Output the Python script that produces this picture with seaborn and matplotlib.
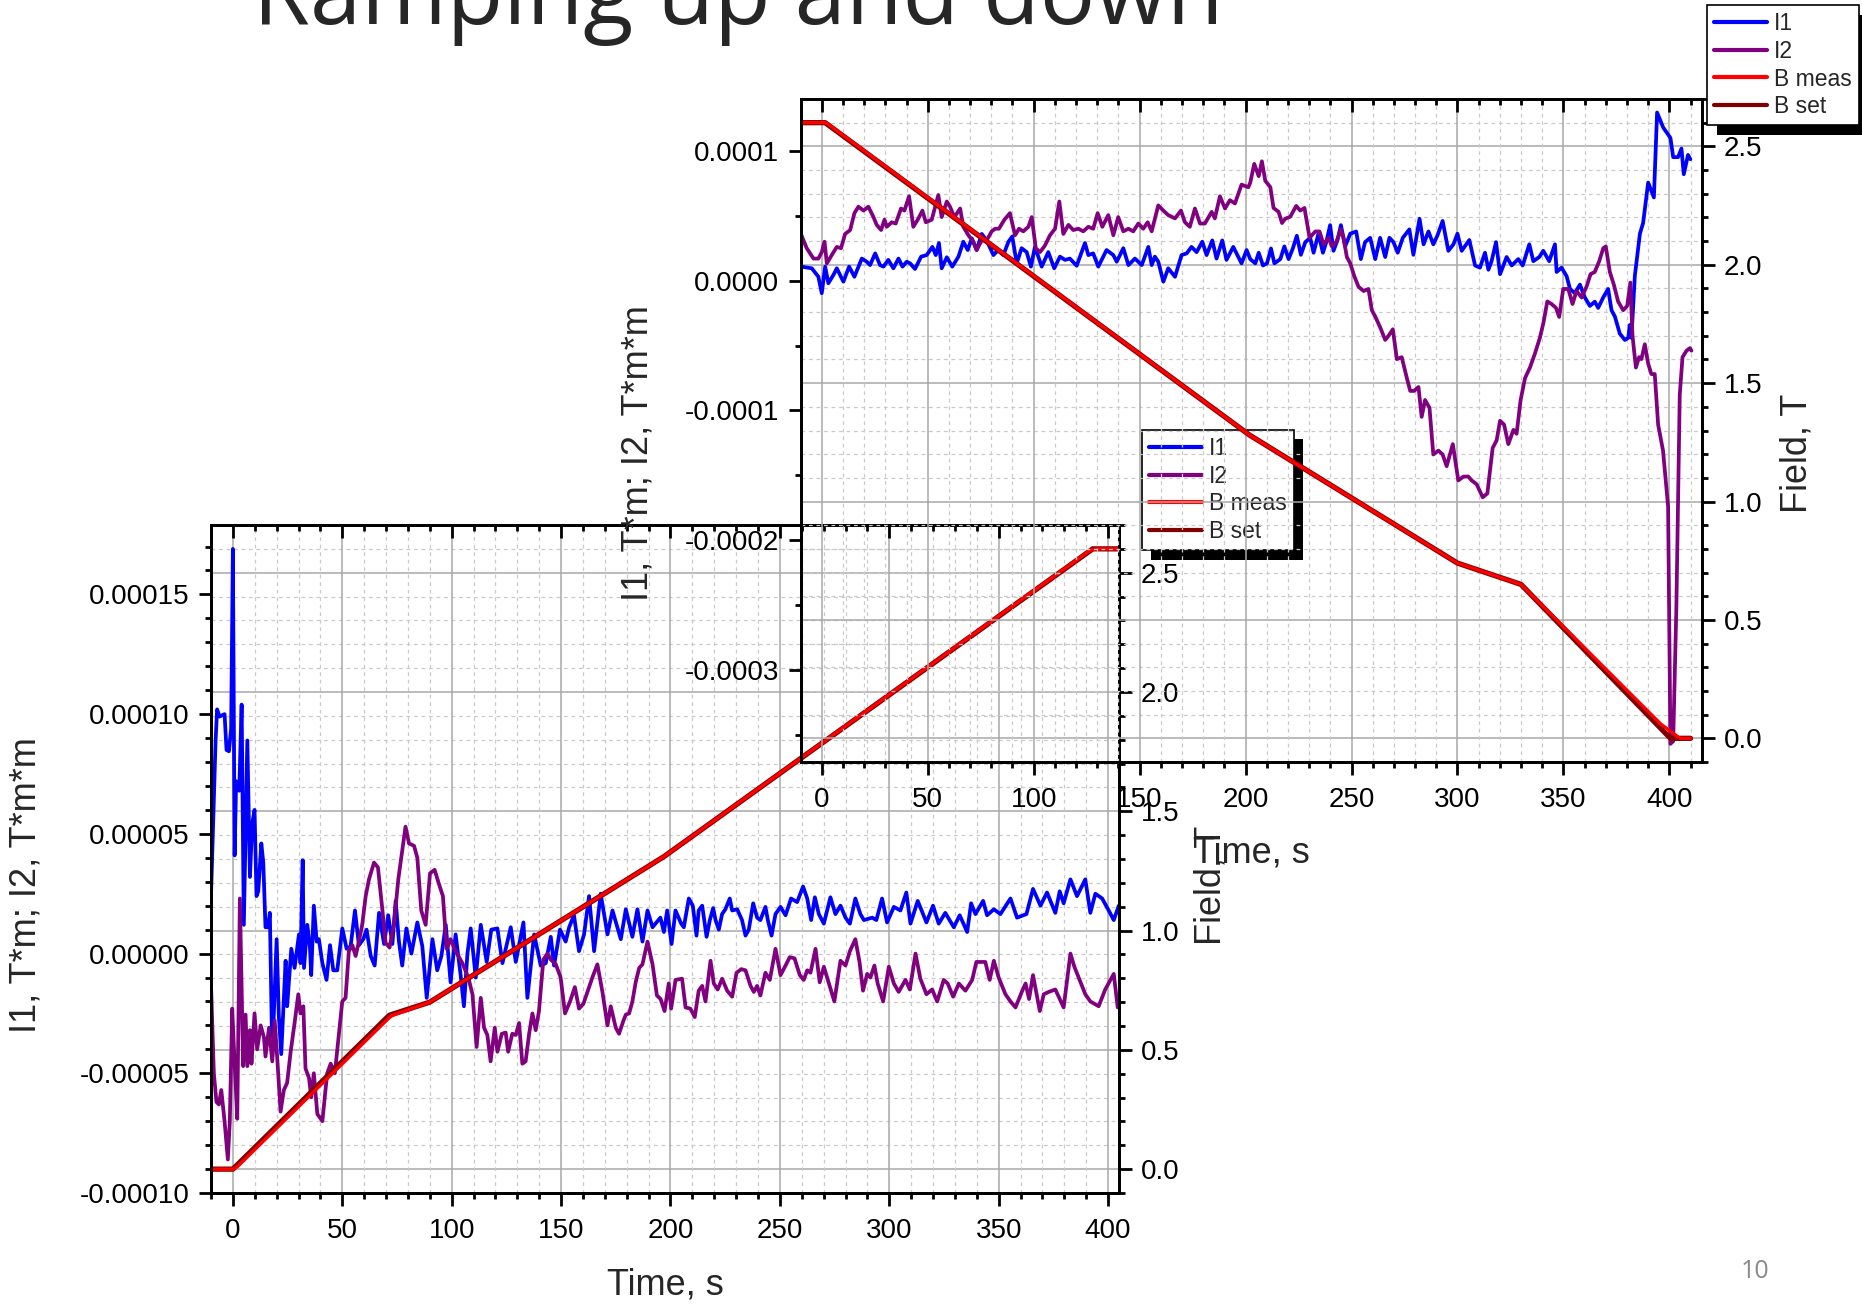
import numpy as np
import matplotlib
matplotlib.use("Agg")
import matplotlib.pyplot as plt
from matplotlib.ticker import MultipleLocator, FuncFormatter
from matplotlib.lines import Line2D
from matplotlib.patches import Rectangle
import seaborn as sns

# ---------------- data (I1 / I2 values in units of 1e-5) ----------------
TITLE = "Ramping up and down"
PAGE = "10"
LEGEND_LABELS = ["I1", "I2", "B meas", "B set"]
X_LABEL = "Time, s"
Y_LABEL = "I1, T*m; I2, T*m*m"
R_LABEL = "Field, T"
I_SCALE = 1e-5

# ----- lower chart (ramp up) -----
BOT_I1_T = [-10, -7.9, -7.2, -6.1, -3.8, -2.9, -1.8, -0.8, 0.0, 0.8,
            1.5, 2.9, 4.0, 5.0, 6.6, 7.8, 8.8, 9.9, 10.8, 11.6,
            13.0, 13.9, 14.9, 16.0, 16.9, 18.0, 20.0, 21.0, 22.1, 24.1,
            24.8, 26.7, 28.2, 30.2, 30.9, 31.9, 32.5, 34.0, 35.2, 35.8,
            37.0, 38.3, 39.3, 40.9, 42.8, 44.4, 45.9, 47.7, 50.0, 52.0,
            53.8, 55.8, 57.6, 59.6, 61.1, 63.0, 64.8, 66.8, 69.1, 71.0,
            72.9, 74.4, 75.9, 77.4, 79.3, 81.6, 84.3, 86.6, 88.6, 91.2,
            93.4, 95.3, 97.3, 99.5, 101.8, 104.1, 105.6, 107.2, 108.7, 111.0,
            113.3, 116.0, 118.1, 120.9, 123.2, 127.0, 129.3, 132.8, 134.6, 137.7,
            140.7, 143.0, 145.3, 146.8, 149.5, 152.1, 153.7, 155.9, 158.2, 160.5,
            162.8, 165.1, 168.1, 171.2, 173.5, 177.3, 179.6, 182.6, 184.9, 187.2,
            189.5, 191.8, 195.4, 197.0, 198.5, 200.5, 202.3, 204.9, 206.1, 208.4,
            210.2, 211.9, 212.9, 214.5, 216.5, 218.0, 219.5, 220.6, 222.1, 223.6,
            225.1, 227.1, 228.2, 230.5, 232.7, 234.3, 235.8, 237.8, 239.6, 241.1,
            243.4, 244.5, 246.2, 248.0, 250.3, 252.6, 255.1, 257.9, 260.6, 262.5,
            264.3, 266.0, 267.8, 270.1, 273.1, 275.4, 277.7, 280.0, 282.0, 284.5,
            286.8, 288.4, 292.2, 294.1, 296.7, 299.0, 302.1, 305.1, 307.8, 309.7,
            313.0, 317.0, 320.0, 322.6, 325.6, 329.5, 332.2, 335.6, 337.4, 339.4,
            342.9, 344.7, 347.8, 350.8, 355.4, 358.4, 362.7, 365.7, 369.1, 372.1,
            375.9, 377.9, 379.7, 382.8, 385.8, 389.6, 391.9, 394.2, 397.3, 400.3,
            402.6, 404.9]
BOT_I1_V = [2.4, 8.9, 10.2, 9.9, 10.0, 8.5, 8.45, 9.4, 16.9, 4.1,
            7.2, 6.8, 10.4, 1.2, 8.9, 3.2, 5.4, 6.0, 2.4, 2.6,
            4.6, 3.8, 1.1, 1.1, 1.7, -4.3, 0.6, -2.6, -4.2, -0.3,
            -2.2, 0.2, -0.6, 0.8, -0.4, 3.9, -0.6, 1.2, 0.3, -0.9,
            2.0, 0.5, 0.6, -0.4, -1.1, 0.35, -0.7, -0.7, 1.05, 0.2,
            0.3, 1.8, 0.35, 0.6, 1.0, -0.1, -0.5, 1.7, 0.4, 1.6,
            0.4, 2.2, 0.5, -0.5, 1.05, 0.0, 1.3, 0.3, -1.85, 0.6,
            -0.7, -0.1, 1.2, -1.2, 0.8, -0.9, -2.2, 0.0, 1.05, -1.0,
            1.2, -0.35, 1.0, 1.05, -0.4, 1.1, -0.35, 1.3, -1.85, 0.8,
            -0.5, -0.4, 0.7, -0.5, 1.0, 0.5, 1.1, 1.6, 0.1, 0.8,
            2.4, 0.1, 2.5, 0.8, 1.8, 0.6, 1.85, 0.7, 1.85, 0.5,
            1.8, 1.1, 1.5, 0.9, 1.8, 0.4, 1.8, 1.25, 1.1, 2.3,
            2.0, 0.75, 1.8, 2.0, 0.7, 1.4, 1.9, 1.4, 1.0, 1.65,
            1.85, 2.3, 1.8, 1.85, 1.4, 0.75, 1.0, 2.1, 1.5, 1.4,
            1.95, 1.4, 0.75, 1.65, 1.95, 1.6, 2.3, 2.15, 2.8, 2.3,
            1.4, 2.35, 1.65, 1.25, 2.35, 1.65, 2.0, 1.5, 1.25, 2.3,
            1.65, 1.4, 1.5, 1.4, 2.3, 1.3, 1.95, 1.8, 2.55, 1.25,
            2.2, 1.3, 2.0, 1.25, 1.7, 1.1, 1.6, 0.9, 2.1, 1.65,
            2.2, 1.6, 1.85, 1.65, 2.3, 1.5, 1.65, 2.7, 2.0, 2.55,
            1.7, 2.6, 2.1, 3.1, 2.4, 3.1, 1.7, 2.5, 2.3, 1.8,
            1.4, 2.0]

BOT_I2_T = [-10, -8.7, -7.5, -6.4, -5.3, -3.8, -2.3, -1.4, -0.3, 0.8,
            2.0, 3.2, 4.7, 5.8, 6.6, 7.8, 8.5, 9.9, 11.1, 12.7,
            14.2, 14.9, 16.5, 18.0, 19.1, 20.3, 21.8, 23.3, 24.8, 26.4,
            28.2, 29.9, 30.9, 32.2, 33.2, 34.8, 35.8, 37.0, 38.6, 40.9,
            43.1, 44.7, 46.6, 48.5, 50.0, 51.5, 53.0, 54.6, 56.1, 57.6,
            59.1, 60.7, 62.2, 64.5, 66.3, 68.3, 69.8, 71.6, 73.6, 75.6,
            77.4, 78.9, 80.5, 82.8, 84.3, 86.1, 88.1, 90.1, 92.2, 94.2,
            96.0, 97.7, 99.5, 101.8, 104.9, 107.6, 109.5, 111.4, 113.3, 114.8,
            116.3, 117.8, 119.7, 120.9, 122.9, 124.7, 125.8, 127.7, 129.3, 130.8,
            132.3, 133.8, 135.4, 136.9, 138.4, 139.9, 141.9, 143.8, 145.3, 147.6,
            149.8, 151.8, 154.1, 156.3, 158.2, 160.2, 162.8, 164.3, 166.6, 168.9,
            171.2, 172.7, 175.0, 176.5, 178.5, 179.6, 181.1, 182.6, 184.1, 185.7,
            187.2, 189.5, 191.8, 193.8, 195.5, 197.3, 199.2, 200.3, 202.3, 205.3,
            206.9, 209.1, 211.1, 212.9, 214.5, 216.0, 218.3, 219.8, 221.6, 223.6,
            225.9, 228.2, 230.2, 232.4, 234.3, 236.6, 238.1, 239.6, 241.1, 243.4,
            245.4, 248.0, 250.3, 252.6, 254.5, 256.7, 259.1, 260.9, 262.5, 264.0,
            266.3, 268.2, 270.1, 272.4, 274.9, 277.7, 280.0, 282.0, 284.5, 286.4,
            288.0, 289.9, 291.4, 293.2, 294.7, 297.2, 299.8, 302.1, 304.3, 307.4,
            309.4, 312.0, 314.2, 317.0, 319.6, 321.9, 324.9, 326.7, 329.2, 331.8,
            334.8, 337.9, 339.8, 342.4, 343.9, 345.9, 347.8, 350.0, 353.1, 355.4,
            357.7, 360.8, 362.3, 363.9, 365.7, 368.8, 370.6, 372.9, 375.9, 379.7,
            382.8, 384.6, 387.0, 389.6, 391.9, 395.7, 398.7, 402.6, 404.4]
BOT_I2_V = [-1.3, -5.0, -6.2, -6.3, -5.7, -7.0, -8.6, -7.0, -2.3, -4.6,
            -6.9, 2.3, -4.7, -2.55, -4.7, -3.2, -4.6, -2.5, -4.0, -3.0,
            -3.5, -4.3, -3.1, -4.5, -2.8, -4.4, -6.6, -5.7, -5.4, -4.1,
            -2.9, -1.7, -2.5, -2.2, -4.8, -5.2, -6.0, -5.0, -6.7, -7.0,
            -5.0, -4.6, -5.0, -3.3, -2.0, -1.85, 0.1, 0.35, -0.1, 0.5,
            1.2, 2.4, 3.1, 3.8, 3.6, 1.85, 0.45, 0.25, 1.2, 3.1,
            4.3, 5.3, 4.6, 4.5, 4.0, 1.8, 1.2, 3.35, 3.5, 2.9,
            2.4, 0.2, 0.6, 0.1, -0.4, -1.0, -1.7, -3.9, -1.85, -3.1,
            -3.4, -4.5, -3.1, -4.1, -3.35, -3.3, -4.1, -3.35, -3.4, -2.9,
            -4.6, -4.5, -3.35, -2.5, -3.2, -2.4, -0.25, 0.0, -0.25, -0.45,
            -1.0, -2.5, -2.0, -1.4, -2.3, -2.1, -1.4, -1.0, -0.45, -1.6,
            -3.0, -2.2, -3.1, -3.35, -2.8, -2.55, -2.5, -2.0, -1.2, -0.6,
            -0.45, 0.5, -0.45, -1.75, -1.9, -2.4, -1.25, -2.3, -1.1, -1.05,
            -2.25, -2.3, -2.65, -1.55, -1.35, -2.0, -0.3, -1.25, -1.5, -1.05,
            -1.55, -1.8, -0.8, -0.65, -0.7, -1.35, -1.6, -1.35, -1.75, -0.8,
            -1.1, 0.2, -0.9, -0.5, -0.15, -0.2, -0.9, -1.1, -0.7, -0.8,
            0.2, -1.2, -0.55, -1.25, -2.0, -0.3, -0.5, 0.1, 0.6, -0.35,
            -1.55, -0.85, -1.0, -0.5, -1.25, -2.0, -0.55, -1.25, -1.6, -1.1,
            -1.5, 0.0, -1.05, -1.7, -1.5, -2.0, -1.1, -1.25, -1.8, -1.25,
            -1.55, -1.1, -0.35, -0.35, -0.35, -1.1, -0.3, -1.0, -1.7, -2.0,
            -2.25, -1.55, -1.25, -1.9, -0.9, -2.4, -1.7, -1.6, -1.5, -2.25,
            0.0, -0.55, -1.1, -1.7, -2.0, -2.2, -1.5, -0.85, -2.25]

BOT_BSET_T = [-10, 0, 71.5, 90, 197, 393, 405]
BOT_BSET_V = [0.0, 0.0, 0.645, 0.70, 1.31, 2.60, 2.60]
BOT_BMEAS_T = [-10, 0, 2, 71.5, 73, 90, 197, 392, 395, 405]
BOT_BMEAS_V = [0.0, 0.0, 0.01, 0.635, 0.645, 0.70, 1.31, 2.595, 2.60, 2.60]

# ----- upper chart (ramp down) -----
TOP_I1_T = [-9.6, -4.7, -1.6, 0.0, 1.6, 3.1, 5.5, 7.1, 10.2, 12.9,
            15.4, 18.9, 21.2, 22.8, 25.2, 27.5, 29.1, 31.4, 33.8, 36.2,
            38.1, 40.1, 41.7, 44.0, 46.9, 49.5, 52.2, 53.8, 55.3, 56.6,
            59.0, 61.6, 64.5, 66.8, 68.9, 70.8, 73.1, 75.5, 77.8, 81.0,
            83.3, 85.7, 88.1, 89.9, 92.0, 94.3, 96.7, 98.7, 100.6, 103.8,
            106.9, 109.7, 112.4, 114.8, 117.1, 120.3, 124.2, 125.8, 128.1, 130.5,
            134.4, 137.6, 139.2, 142.3, 144.7, 147.8, 151.0, 154.1, 155.7, 157.2,
            158.8, 161.2, 163.5, 166.7, 169.8, 172.2, 174.5, 176.9, 179.6, 181.6,
            184.3, 186.3, 189.0, 191.0, 194.2, 198.1, 200.5, 202.2, 204.6, 206.2,
            208.2, 210.1, 212.0, 213.6, 216.4, 218.3, 220.3, 222.3, 224.2, 226.1,
            228.2, 230.5, 232.1, 234.4, 236.5, 238.1, 239.9, 241.5, 243.4, 245.0,
            247.0, 249.4, 252.2, 254.4, 256.4, 258.8, 261.2, 263.5, 265.9, 267.9,
            269.8, 271.8, 274.2, 277.3, 279.2, 282.1, 284.0, 286.3, 288.6, 290.5,
            293.0, 295.7, 298.1, 300.0, 302.0, 305.6, 308.3, 310.6, 313.0, 314.6,
            316.1, 318.2, 320.1, 323.2, 325.6, 328.7, 330.8, 333.9, 335.8, 338.6,
            340.5, 343.3, 346.0, 346.8, 349.1, 351.5, 353.1, 355.4, 357.8, 360.1,
            362.5, 364.8, 366.4, 368.8, 371.1, 372.7, 374.3, 376.6, 379.0, 380.6,
            381.3, 382.1, 383.7, 386.1, 387.6, 390.0, 392.7, 394.2, 397.1, 400.5,
            401.8, 404.1, 405.7, 406.8, 408.8, 409.9]
TOP_I1_V = [1.08, 0.95, 0.3, -0.97, 1.08, -0.2, 0.44, 0.95, -0.08, 1.08,
            0.3, 1.7, 1.46, 1.2, 2.1, 1.2, 1.08, 1.6, 0.95, 1.7,
            1.08, 1.46, 1.33, 0.9, 1.85, 1.97, 2.6, 1.97, 2.9, 0.95,
            1.8, 1.08, 1.85, 3.0, 2.36, 3.26, 2.36, 3.6, 3.1, 1.97,
            2.36, 1.97, 3.0, 3.4, 1.33, 2.5, 2.2, 1.08, 2.6, 1.08,
            2.2, 0.95, 1.85, 1.6, 1.7, 1.15, 2.9, 1.97, 2.1, 1.08,
            2.36, 1.97, 1.46, 2.5, 1.2, 1.7, 1.2, 2.6, 1.2, 1.85,
            1.46, -0.08, 0.95, 0.3, 1.97, 2.1, 2.6, 2.2, 3.0, 1.97,
            3.1, 1.7, 3.1, 1.6, 2.6, 1.33, 2.36, 1.66, 1.33, 2.15,
            1.17, 1.33, 2.48, 1.33, 1.66, 2.64, 1.66, 2.48, 3.46, 1.99,
            2.97, 3.3, 2.15, 3.62, 2.15, 2.97, 4.28, 2.3, 3.13, 4.28,
            2.64, 3.62, 3.79, 1.66, 2.97, 3.3, 1.66, 3.3, 1.82, 3.3,
            2.97, 2.15, 3.3, 3.95, 1.99, 4.77, 2.8, 3.79, 2.8, 3.46,
            4.6, 2.3, 2.8, 3.62, 2.3, 3.13, 1.17, 1.0, 2.15, 0.84,
            1.5, 2.97, 0.5, 1.82, 1.17, 1.66, 1.17, 2.8, 1.5, 1.82,
            2.3, 1.5, 2.8, 0.67, 1.0, 0.35, -0.64, -0.96, -0.31, -1.29,
            -1.95, -1.62, -2.1, -1.29, -0.64, -2.28, -2.77, -4.08, -4.57, -4.41,
            -3.42, -4.41, 0.35, 3.62, 4.44, 7.56, 6.41, 12.96, 11.8, 11.0,
            9.52, 9.52, 10.18, 8.2, 9.69, 9.36]

TOP_I2_T = [-9.6, -7.1, -3.9, -1.6, 0.0, 1.3, 2.4, 4.7, 7.1, 9.1,
            11.0, 13.4, 15.4, 17.3, 19.7, 22.0, 24.4, 25.9, 28.0, 29.6,
            30.7, 33.0, 34.9, 37.4, 39.0, 41.2, 43.2, 45.3, 47.5, 49.1,
            51.9, 55.0, 56.6, 59.0, 60.5, 62.6, 65.3, 66.8, 69.2, 71.5,
            73.1, 75.5, 77.8, 80.2, 81.8, 83.6, 86.2, 88.8, 91.2, 93.1,
            95.1, 97.5, 99.1, 101.0, 103.0, 105.3, 107.7, 110.1, 112.1, 114.0,
            116.4, 118.7, 121.1, 123.4, 125.8, 128.1, 130.2, 132.4, 135.2, 137.6,
            139.9, 142.3, 144.7, 147.0, 149.4, 151.7, 153.8, 155.7, 158.8, 161.2,
            163.5, 166.7, 169.5, 171.4, 173.7, 176.1, 178.5, 180.8, 184.0, 185.5,
            187.9, 190.3, 192.6, 195.0, 198.1, 201.3, 202.2, 204.1, 206.2, 207.7,
            209.3, 211.7, 213.2, 215.6, 217.2, 218.7, 221.1, 223.9, 225.8, 227.8,
            230.2, 232.9, 234.9, 236.8, 239.2, 240.7, 242.8, 245.0, 246.2, 247.8,
            249.4, 251.3, 253.3, 255.7, 258.0, 259.6, 261.2, 263.5, 265.9, 267.5,
            269.5, 271.4, 273.7, 276.1, 277.7, 279.5, 281.6, 283.1, 284.7, 286.8,
            288.6, 291.0, 293.0, 294.9, 297.8, 300.4, 302.8, 305.1, 306.7, 309.1,
            311.9, 314.1, 316.6, 318.5, 320.1, 322.0, 324.0, 326.4, 327.9, 329.8,
            331.9, 334.2, 336.6, 338.9, 340.5, 342.4, 344.4, 346.5, 348.0, 349.9,
            352.3, 354.3, 356.2, 358.6, 360.9, 362.8, 364.8, 366.9, 368.8, 370.0,
            371.9, 373.8, 375.8, 378.2, 380.1, 381.6, 382.6, 384.2, 385.7, 386.8,
            388.4, 390.0, 391.5, 393.1, 394.7, 397.0, 399.4, 400.5, 401.8, 403.3,
            404.9, 406.2, 408.1, 409.7, 410.4]
TOP_I2_V = [3.5, 2.5, 1.7, 1.7, 2.2, 3.0, 1.33, 1.97, 2.6, 2.5,
            3.6, 3.9, 5.2, 5.7, 5.4, 5.7, 4.9, 4.3, 3.9, 4.7,
            4.15, 4.5, 4.4, 5.56, 5.4, 6.5, 4.15, 4.7, 5.4, 4.5,
            4.7, 6.6, 4.9, 6.1, 5.7, 4.9, 5.56, 4.15, 3.5, 3.0,
            2.36, 3.1, 3.1, 3.8, 4.0, 4.0, 4.7, 5.2, 3.5, 4.0,
            3.8, 4.15, 4.9, 2.5, 2.2, 2.7, 3.5, 4.0, 6.1, 3.6,
            4.3, 3.9, 4.0, 3.8, 4.15, 4.0, 5.2, 4.15, 5.05, 3.5,
            4.9, 3.8, 4.0, 3.8, 4.4, 4.0, 4.5, 3.8, 5.8, 5.4,
            5.05, 4.8, 5.4, 4.5, 4.15, 5.56, 4.4, 4.4, 5.3, 4.8,
            6.5, 5.56, 6.2, 5.95, 7.4, 7.2, 7.55, 9.0, 8.05, 9.2,
            7.7, 7.2, 5.6, 5.3, 4.44, 4.77, 4.93, 5.76, 5.4, 5.6,
            3.3, 3.79, 3.79, 2.8, 3.3, 2.64, 2.97, 3.95, 3.3, 1.82,
            1.33, 0.35, -0.47, -0.8, -0.64, -2.28, -2.77, -3.59, -4.57, -4.24,
            -3.75, -6.05, -5.9, -7.5, -8.5, -8.5, -8.2, -10.5, -9.2, -9.8,
            -13.4, -13.1, -13.4, -14.3, -12.6, -15.4, -15.1, -15.1, -15.4, -15.7,
            -16.7, -16.4, -12.9, -12.3, -10.8, -11.1, -12.6, -11.5, -11.8, -9.2,
            -7.5, -6.7, -5.6, -4.4, -3.3, -1.6, -1.8, -2.1, -2.8, -0.64,
            -0.64, -1.8, -0.8, -1.3, -0.47, 0.5, 0.67, 1.5, 2.5, 2.64,
            0.67, -0.31, -1.6, -2.28, -1.95, -0.15, -4.24, -6.7, -5.9, -6.05,
            -4.9, -6.4, -7.2, -7.2, -11.1, -13.1, -17.4, -35.7, -35.5, -25.2,
            -8.8, -5.9, -5.4, -5.2, -5.4]

TOP_BSET_T = [-10, 1.6, 202, 300, 330, 400.5, 410]
TOP_BSET_V = [2.60, 2.60, 1.28, 0.74, 0.65, 0.0, 0.0]
TOP_BMEAS_T = [-10, 2.0, 202, 300, 330, 396, 405, 410]
TOP_BMEAS_V = [2.60, 2.60, 1.28, 0.74, 0.65, 0.06, 0.0, 0.0]

# ---------------- styling ----------------
C_I1, C_I2, C_BM, C_BS = "#0000ff", "#800080", "#ff0000", "#800000"
GRID_MAJ, GRID_MIN = "#a8a8a8", "#cacaca"
W, H = 1862, 1304

sns.set_style("white")
plt.rcParams["font.family"] = ["Liberation Sans", "DejaVu Sans"]
plt.rcParams["axes.unicode_minus"] = False

fig = plt.figure(figsize=(W / 100, H / 100), dpi=100)
fig.patch.set_facecolor("white")


def px_rect(l, t, r, b):
    return [l / W, 1 - b / H, (r - l) / W, (b - t) / H]


def fmt(dec):
    return FuncFormatter(lambda v, _: f"{round(v, 9) + 0.0:.{dec}f}")


def draw_chart(rect, xlim, ylim_l, ylim_r, l_major, l_minor, l_dec, z,
               i1, i2, bm, bs, xlab_y, ylab_xy, rlab_xy):
    ax = fig.add_axes(rect)
    axr = ax.twinx()
    ax.set_zorder(z)
    axr.set_zorder(z + 0.1)
    for a in (ax, axr):
        a.patch.set_visible(False)
        for s in a.spines.values():
            s.set_linewidth(2.0)
            s.set_color("black")

    # data
    sns.lineplot(x=np.asarray(i1[0]), y=np.asarray(i1[1]) * I_SCALE, ax=ax,
                 color=C_I1, lw=2.7, sort=False, estimator=None, legend=False)
    sns.lineplot(x=np.asarray(i2[0]), y=np.asarray(i2[1]) * I_SCALE, ax=ax,
                 color=C_I2, lw=2.7, sort=False, estimator=None, legend=False)
    sns.lineplot(x=np.asarray(bs[0]), y=np.asarray(bs[1]), ax=axr,
                 color=C_BS, lw=3.8, sort=False, estimator=None, legend=False)
    sns.lineplot(x=np.asarray(bm[0]), y=np.asarray(bm[1]), ax=axr,
                 color=C_BM, lw=2.4, sort=False, estimator=None, legend=False)

    ax.set_xlim(*xlim)
    ax.set_ylim(*ylim_l)
    axr.set_ylim(*ylim_r)

    # grid: vertical from time axis, horizontal from field axis
    ax.set_axisbelow(True)
    ax.xaxis.grid(True, which="major", color=GRID_MAJ, lw=1.1, ls="-")
    ax.xaxis.grid(True, which="minor", color=GRID_MIN, lw=0.9, ls=(0, (3, 3)))
    lo_l, hi_l = ylim_l
    lo_r, hi_r = ylim_r
    for k in range(0, 27):
        b = k / 10
        y = lo_l + (b - lo_r) / (hi_r - lo_r) * (hi_l - lo_l)
        if k % 5 == 0:
            ax.axhline(y, color=GRID_MAJ, lw=1.1, zorder=0.4)
        else:
            ax.axhline(y, color=GRID_MIN, lw=0.9, ls=(0, (3, 3)), zorder=0.4)

    # ticks
    ax.xaxis.set_major_locator(MultipleLocator(50))
    ax.xaxis.set_minor_locator(MultipleLocator(10))
    ax.xaxis.set_major_formatter(FuncFormatter(lambda v, _: f"{v:.0f}"))
    ax.yaxis.set_major_locator(MultipleLocator(l_major))
    ax.yaxis.set_minor_locator(MultipleLocator(l_minor))
    ax.yaxis.set_major_formatter(fmt(l_dec))
    axr.yaxis.set_major_locator(MultipleLocator(0.5))
    axr.yaxis.set_minor_locator(MultipleLocator(0.1))
    axr.yaxis.set_major_formatter(fmt(1))

    for a in (ax, axr):
        a.tick_params(axis="both", which="both", width=2.0, color="black",
                      labelsize=20, labelcolor="black")
        a.tick_params(axis="both", which="major", length=9)
        a.tick_params(axis="both", which="minor", length=4.5)
    ax.tick_params(axis="x", which="both", bottom=True, top=False,
                   direction="out", pad=9.0)
    ax.tick_params(axis="y", which="both", left=True, right=False,
                   direction="out", pad=6.5)
    axr.tick_params(axis="y", which="both", right=True, left=False,
                    direction="out", pad=6.5)
    axr.xaxis.set_visible(True)
    axr.tick_params(axis="x", which="both", bottom=False, top=True,
                    labelbottom=False, labeltop=False, direction="in")

    # labels
    ax.set_xlabel(X_LABEL, fontsize=26, va="center", ha="center")
    ax.xaxis.set_label_coords(0.5, xlab_y)
    ax.set_ylabel(Y_LABEL, fontsize=26, va="center", ha="center")
    ax.yaxis.set_label_coords(*ylab_xy)
    axr.set_ylabel(R_LABEL, fontsize=26, va="center", ha="center", rotation=90)
    axr.yaxis.set_label_coords(*rlab_xy)
    return ax, axr


# lower chart (ramp up)
ax_b, axr_b = draw_chart(px_rect(211, 525, 1119, 1193), (-10, 405),
                         (-1.0e-4, 1.79e-4), (-0.1, 2.7), 5e-5, 1e-5, 5, 1,
                         (BOT_I1_T, BOT_I1_V), (BOT_I2_T, BOT_I2_V),
                         (BOT_BMEAS_T, BOT_BMEAS_V), (BOT_BSET_T, BOT_BSET_V),
                         -0.138, (-0.204, 0.461), (1.101, 0.46))

# upper chart (ramp down)
ax_t, axr_t = draw_chart(px_rect(801, 99, 1702, 762), (-9.8, 415.4),
                         (-3.71e-4, 1.40e-4), (-0.1, 2.7), 1e-4, 5e-5, 4, 3,
                         (TOP_I1_T, TOP_I1_V), (TOP_I2_T, TOP_I2_V),
                         (TOP_BMEAS_T, TOP_BMEAS_V), (TOP_BSET_T, TOP_BSET_V),
                         -0.137, (-0.181, 0.4665), (1.105, 0.465))

# legends
handles = [Line2D([], [], color=c, lw=3.0) for c in (C_I1, C_I2, C_BM, C_BS)]


def make_legend(x, y, z):
    leg = fig.legend(handles, LEGEND_LABELS, loc="upper left",
                     bbox_to_anchor=(x / W, 1 - y / H),
                     bbox_transform=fig.transFigure, fontsize=16.5,
                     frameon=True, fancybox=False, borderaxespad=0,
                     borderpad=0.32, handlelength=2.3, handletextpad=0.3,
                     labelspacing=0.2, framealpha=1, edgecolor="black")
    leg.get_frame().set_linewidth(1.2)
    leg.set_zorder(z)
    return leg


leg_b = make_legend(1142, 430, 2.5)
leg_t = make_legend(1707, 5, 5)

# title and page number
fig.text(253 / W, 1 - 24 / H, TITLE, fontsize=66.5, ha="left", va="baseline",
         family=["Open Sans", "DejaVu Sans"], fontweight="normal", zorder=6)
fig.text(1755 / W, 1 - 1271 / H, PAGE, fontsize=18, ha="center", va="center",
         color="#8a8a8a", family=["Open Sans", "DejaVu Sans"], zorder=6)

# black drop shadows behind legends (Origin style)
fig.canvas.draw()
for leg in (leg_b, leg_t):
    bb = leg.get_frame().get_window_extent().transformed(fig.transFigure.inverted())
    shadow = Rectangle((bb.x0 + 9.5 / W, bb.y0 - 9.5 / H), bb.width, bb.height,
                       transform=fig.transFigure, facecolor="black",
                       edgecolor="none", zorder=leg.get_zorder() - 0.01)
    fig.add_artist(shadow)

fig.savefig("out.png", dpi=100, facecolor="white")
